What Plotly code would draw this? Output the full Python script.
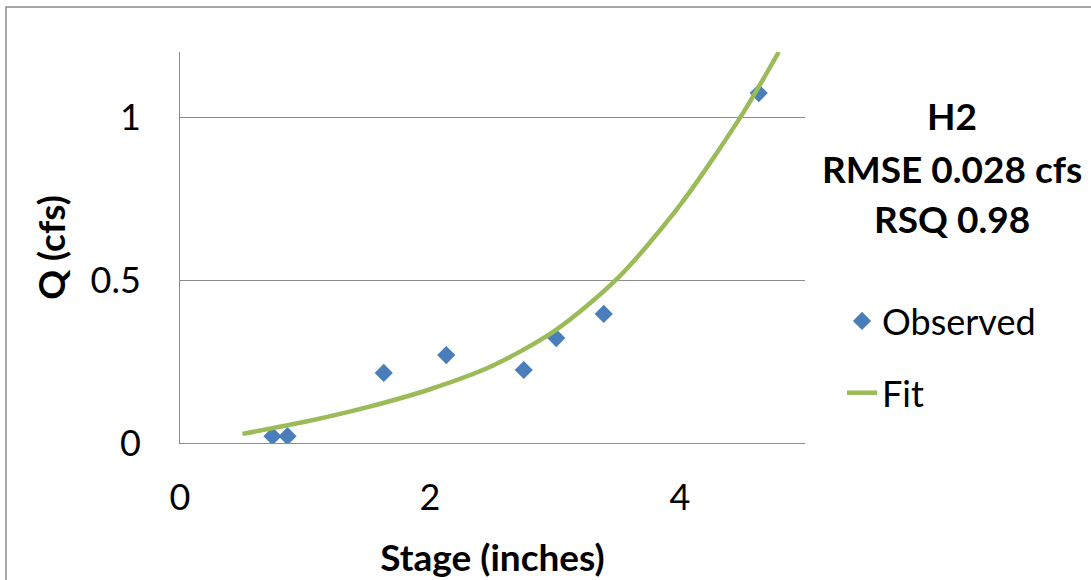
import plotly.graph_objects as go

# Observed stage / discharge pairs
stage_obs = [0.74, 0.86, 1.63, 2.13, 2.75, 3.01, 3.39, 4.63]
q_obs = [0.021, 0.021, 0.215, 0.27, 0.224, 0.322, 0.396, 1.074]

# Rating-curve fit, sampled along the stage range
stage_fit = [0.5, 1.0, 1.5, 2.0, 2.5, 3.0, 3.5, 4.0, 4.5, 4.79]
q_fit = [0.028, 0.065, 0.11, 0.165, 0.237, 0.345, 0.505, 0.73, 1.01, 1.2]

x_ticks = [0, 2, 4]
y_ticks = [0, 0.5, 1]
y_tick_text = ["0", "0.5", "1"]

stats_lines = ["H2", "RMSE 0.028 cfs", "RSQ 0.98"]

FONT = "Lato"
BLUE = "#4A7EBB"
GREEN = "#9BBB59"
GRID = "#8C8C8C"

W, H = 1091, 580
L, R, T, B = 180, 286, 52, 137

fig = go.Figure()
fig.add_trace(go.Scatter(
    x=stage_obs, y=q_obs, mode="markers", name="Observed",
    legendgroup="obs",
    marker=dict(symbol="diamond", size=14, color=BLUE, line=dict(width=0)),
))
fig.add_trace(go.Scatter(
    x=stage_fit, y=q_fit, mode="lines", name="Fit",
    legendgroup="fit",
    line=dict(color=GREEN, width=4.5, shape="spline", smoothing=0.8),
))

plot_w = W - L - R
plot_h = H - T - B


def px_x(p):
    return (p - L) / plot_w


def px_y(p):
    return (H - B - p) / plot_h


annotations = []
for text, yp in zip(stats_lines, [115, 168, 218]):
    annotations.append(dict(
        text=f"<b>{text}</b>", x=px_x(952), y=px_y(yp),
        xref="paper", yref="paper", xanchor="center", yanchor="middle",
        showarrow=False, font=dict(family=FONT, size=37, color="black"),
    ))

fig.update_layout(
    width=W, height=H,
    margin=dict(l=L, r=R, t=T, b=B, autoexpand=False),
    paper_bgcolor="white", plot_bgcolor="white",
    font=dict(family=FONT, size=36, color="black"),
    showlegend=True,
    legend=dict(
        x=px_x(842), y=px_y(291), xanchor="left", yanchor="top",
        tracegroupgap=22, bgcolor="rgba(0,0,0,0)",
        font=dict(family=FONT, size=36, color="black"),
    ),
    xaxis=dict(
        range=[0, 5], tickvals=x_ticks, ticktext=[str(v) for v in x_ticks],
        showgrid=False, zeroline=False, showline=True, linecolor=GRID,
        linewidth=1, ticks="", ticklabelstandoff=23, automargin=False,
        title=dict(text="<b>Stage (inches)</b>", standoff=27,
                   font=dict(family=FONT, size=37)),
        tickfont=dict(family=FONT, size=36),
    ),
    yaxis=dict(
        range=[0, 1.2], tickvals=y_ticks, ticktext=y_tick_text,
        showgrid=True, gridcolor=GRID, gridwidth=1, zeroline=False,
        showline=True, linecolor=GRID, linewidth=1, ticks="",
        ticklabelstandoff=31, automargin=False,
        title=dict(text="<b>Q (cfs)</b>", standoff=13,
                   font=dict(family=FONT, size=37)),
        tickfont=dict(family=FONT, size=36),
    ),
    annotations=annotations,
    shapes=[dict(
        type="rect", xref="paper", yref="paper",
        x0=px_x(6), y0=px_y(H + 10), x1=px_x(W + 10), y1=px_y(7),
        line=dict(color="#8C8C8C", width=1.5), fillcolor="rgba(0,0,0,0)",
        layer="below",
    )],
)

fig.write_html("out.html")
